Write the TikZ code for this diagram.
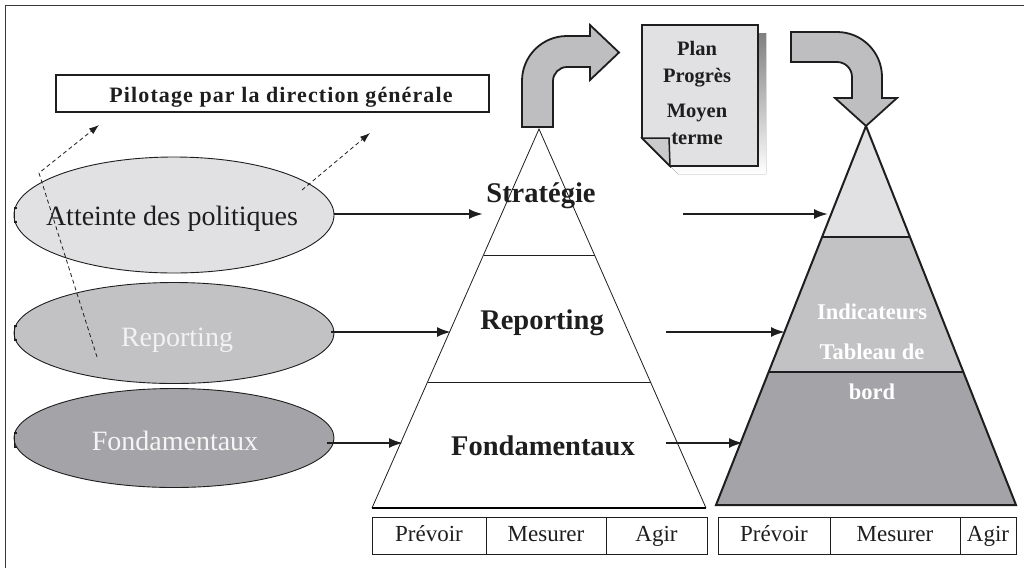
\documentclass[tikz,border=0pt]{standalone}
\usepackage{fontspec}
\setmainfont{Liberation Serif}
\usetikzlibrary{arrows.meta,shapes.geometric}

\definecolor{pale}{HTML}{E1E1E3}
\definecolor{mid}{HTML}{C2C2C4}
\definecolor{deep}{HTML}{A4A4A8}
\definecolor{bend}{HTML}{BEBEC0}
\definecolor{shade}{HTML}{828284}
\definecolor{ink}{HTML}{1E1E1E}
\definecolor{frame}{HTML}{3A3A3A}

\tikzset{
  oval/.style={ellipse, draw=ink, line width=0.9pt, minimum width=320pt, inner sep=0pt},
  ovaltext/.style={anchor=base, inner sep=0pt, font=\fontsize{28}{32}\selectfont},
  conn/.style={line width=2.2pt, draw=ink, -{Latex[length=14pt,width=10pt]}},
  hint/.style={line width=0.8pt, draw=ink, dash pattern=on 4pt off 3pt, -{Latex[length=10pt,width=7pt]}},
  layer/.style={anchor=base, inner sep=0pt, text=ink, font=\bfseries\fontsize{28.5}{32}\selectfont},
  cell/.style={draw=ink, line width=1pt, minimum height=37pt, inner sep=0pt,
               text height=15pt, text depth=4pt, text=ink, font=\fontsize{23}{26}\selectfont},
  bendarrow/.style={fill=bend, draw=ink, line width=1.8pt, line join=miter}
}

\begin{document}
\begin{tikzpicture}[x=1pt,y=-1pt]
\useasboundingbox (0,0) rectangle (1024,568);

% outer frame (top and left edges)
\draw[frame, line width=1.5pt] (5.5,568) -- (5.5,5.5) -- (1024,5.5);

% heading box
\node (pilot) [draw=ink, line width=1.8pt, minimum width=433pt, minimum height=37pt, inner sep=0pt] at (272.5,93.5) {};
\node (pilottxt) [anchor=base, inner sep=0pt, text=ink, font=\bfseries\fontsize{22}{26}\selectfont\addfontfeatures{LetterSpace=5}] at (281,102) {Pilotage par la direction générale};

% the three ovals
\node (e1) [oval, fill=pale, minimum height=116pt] at (174,215) {};
\node (e2) [oval, fill=mid, minimum height=101pt] at (174,333) {};
\node (e3) [oval, fill=deep, minimum height=99pt] at (174,438) {};
\node (e1t) [ovaltext, text=ink] at (172,225) {Atteinte des politiques};
\node (e2t) [ovaltext, text=white!95!black] at (177,346) {Reporting};
\node (e3t) [ovaltext, text=white!96!black] at (175,450) {Fondamentaux};

% small marks on the left of the ovals
\foreach \yy in {215,333,440}
  \draw[ink, line width=1.6pt] (17,\yy-7) -- (14.5,\yy-7) -- (14.5,\yy+7) -- (17,\yy+7);

% dashed hints towards the heading
\coordinate (d1s) at (97,357);
\coordinate (d1m) at (39,173);
\coordinate (d1e) at (99,125);
\draw[hint] (d1s) -- (d1m) -- (d1e);
\coordinate (d2s) at (302,190);
\coordinate (d2e) at (370,133);
\draw[hint] (d2s) -- (d2e);

% left pyramid
\coordinate (pA) at (539,129);
\coordinate (pL) at (372,508);
\coordinate (pR) at (706,508);
\fill[white] (pA) -- (pL) -- (pR) -- cycle;
\draw[ink, line width=0.8pt] (pL) -- (pA) -- (pR);
\draw[shade, line width=1.6pt] (pL) -- (pR);
\draw[ink, line width=0.8pt] (483.5,255) -- (594.5,255);
\draw[ink, line width=0.8pt] (427.5,382) -- (650.5,382);
\node (s1) [layer] at (541,202) {Stratégie};
\node (s2) [layer] at (542,329) {Reporting};
\node (s3) [layer] at (543,455) {Fondamentaux};

% right pyramid
\coordinate (qA) at (866,126);
\coordinate (qL) at (716,505);
\coordinate (qR) at (1016,505);
\fill[pale] (qA) -- (822.1,237) -- (909.9,237) -- cycle;
\fill[mid] (822.1,237) -- (909.9,237) -- (963.4,372) -- (768.6,372) -- cycle;
\fill[deep] (768.6,372) -- (963.4,372) -- (qR) -- (qL) -- cycle;
\draw[ink, line width=2pt, line join=miter] (qA) -- (qR) -- (qL) -- cycle;
\draw[ink, line width=2pt] (822.1,237) -- (909.9,237);
\draw[ink, line width=2pt] (768.6,372) -- (963.4,372);
\node (ind) [anchor=north, align=center, inner sep=0pt, text=white, font=\bfseries\fontsize{22.5}{40}\selectfont] at (872,304) {Indicateurs\\Tableau de\\bord};

% connectors from the ovals to the left pyramid
\coordinate (a1) at (483,214);
\coordinate (a2) at (451,332);
\coordinate (a3) at (403,443);
\draw[conn] (e1.east |- a1) -- (a1);
\draw[conn] ([xshift=-3pt]e2.east |- a2) -- (a2);
\draw[conn] ([xshift=-7pt]e3.east |- a3) -- (a3);

% connectors towards the right pyramid
\coordinate (b1s) at (683,214);
\coordinate (b1) at (828,214);
\coordinate (b2s) at (666,332);
\coordinate (b2) at (785,332);
\coordinate (b3s) at (666,443);
\coordinate (b3) at (743,443);
\draw[conn] (b1s) -- (b1);
\draw[conn] (b2s) -- (b2);
\draw[conn] (b3s) -- (b3);

% bent arrow rising from the left pyramid
\draw[bendarrow] (522,127) -- (522,81)
  .. controls (522,56.1) and (542.1,36) .. (567,36)
  -- (590,36) -- (590,25) -- (619,52.5) -- (590,80) -- (590,67) -- (567,67)
  .. controls (559.3,67) and (553,73.3) .. (553,81)
  -- (553,127) -- cycle;

% bent arrow falling onto the right pyramid
\draw[bendarrow] (791,32) -- (837,32)
  .. controls (861.9,32) and (882,52.1) .. (882,77)
  -- (882,98) -- (897,98) -- (866,126) -- (835,98) -- (852,98) -- (852,77)
  .. controls (852,68.7) and (845.3,62) .. (837,62)
  -- (791,62) -- cycle;

% plan document with shadow and folded corner
\fill[shade] (650,33) -- (766,33) -- (766,174) -- (678,174) -- (650,146) -- cycle;
\draw[fill=pale, draw=ink, line width=1.8pt, line join=miter] (642,25) -- (758,25) -- (758,166) -- (670,166) -- (642,138) -- cycle;
\draw[fill=pale!90!black, draw=ink, line width=1.5pt, line join=miter] (642,138) -- (669,138) -- (670,166) -- cycle;
\node (plan) [anchor=north, align=center, inner sep=0pt, text=ink, font=\bfseries\fontsize{20.5}{27}\selectfont] at (697,41) {Plan\\Progrès\\[8pt]Moyen\\terme};

% phase tables
\node (p1) [cell, minimum width=114pt] at (429,535.5) {Prévoir};
\node (m1) [cell, minimum width=120pt] at (546,535.5) {Mesurer};
\node (g1) [cell, minimum width=101pt] at (656.5,535.5) {Agir};
\node (p2) [cell, minimum width=112pt] at (774,535.5) {Prévoir};
\node (m2) [cell, minimum width=130pt] at (895,535.5) {Mesurer};
\node (g2) [cell, minimum width=56pt] at (988,535.5) {Agir};
\end{tikzpicture}
\end{document}
